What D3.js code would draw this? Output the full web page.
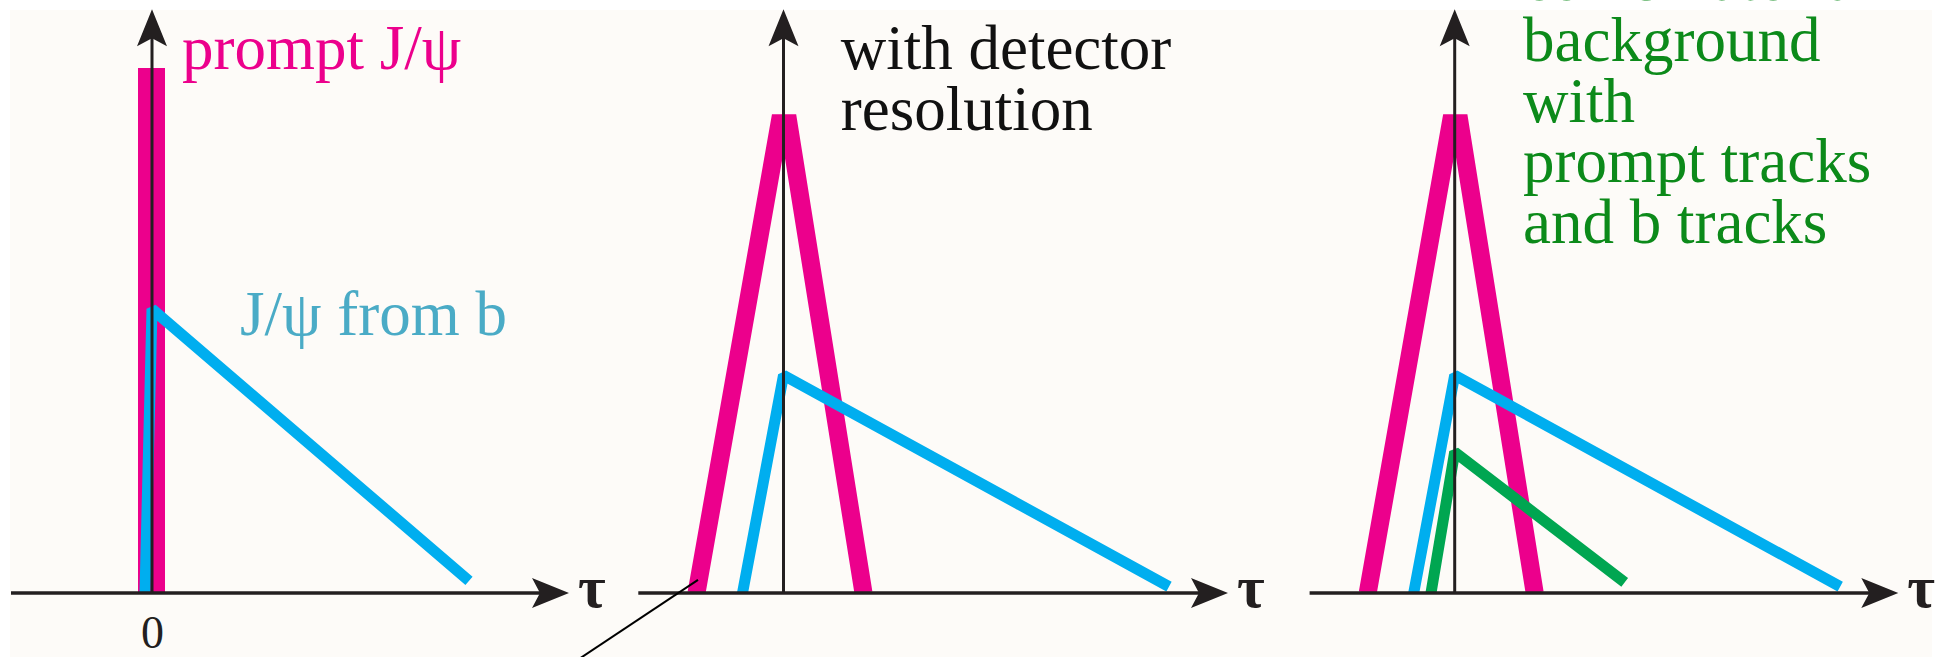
<!DOCTYPE html>
<html>
<head>
<meta charset="utf-8">
<script src="https://cdn.jsdelivr.net/npm/d3@7"></script>
<style>
  html, body { margin: 0; padding: 0; background: #ffffff; }
  svg { display: block; }
</style>
</head>
<body>
<svg id="chart" width="1943" height="657"></svg>
<script>
// ---- data (lifetime τ in arbitrary units, heights in arbitrary units) ----
// lifetime axis extent of each panel
const axisTau = [[-1.41, 4.17], [-1.452, 4.445], [-1.451, 4.436]];
const axisTop = 111;
const zeroTick = [0];

// prompt J/ψ: ideal spike (panel 1) and smeared peak (panels 2, 3)
const promptIdealTau = [-0.055, -0.055, 0.045, 0.045];
const promptIdealH   = [0, 98.2, 98.2, 0];
const promptTau      = [-0.87, -0.04, 0.05, 0.80];
const promptH        = [0, 89.3, 89.3, 0];

// J/ψ from b: ideal (panel 1) and smeared (panels 2, 3)
const fromBIdealTau  = [-0.07, 0, 3.17];
const fromBIdealH    = [0, 54.0, 2.3];
const fromBTau       = [-0.41, 0, 3.855];
const fromBH         = [0, 41.4, 1.2];

// combinatorial background (panel 3)
const bkgTau         = [-0.237, 0, 1.70];
const bkgH           = [0, 26.8, 2.0];

// pointer line below the second panel's axis
const pointerTau     = [-0.855, -2.16];
const pointerH       = [2.5, -14];

// text
const promptLabel  = "prompt J/ψ";
const fromBLabel   = "J/ψ from b";
const panel2Lines  = ["with detector", "resolution"];
const panel3Lines  = ["combinatorial", "background", "with", "prompt tracks", "and b tracks"];
const axisSymbol   = "τ";

// ---- layout ----
const W = 1943, H = 657;
const originX = [152, 783.5, 1454.7];
const pxPerTau = 100;
const FONT = "'Liberation Serif', 'Times New Roman', serif";
const C = {
  bg: "#fdfbf8", axis: "#231f20", pink: "#ec008c", blue: "#00aeef",
  green: "#00a651", blueText: "#4aabc6", greenText: "#0c8a1a", text: "#111111"
};

const svg = d3.select("#chart");
svg.append("rect").attr("x", 10).attr("y", 10).attr("width", 1922).attr("height", H - 10)
  .attr("fill", C.bg);

const y = d3.scaleLinear().domain([0, 100]).range([593, 67]);
const xScales = axisTau.map((d, i) =>
  d3.scaleLinear().domain(d).range([originX[i] + d[0] * pxPerTau, originX[i] + d[1] * pxPerTau]));

// keep curves above the τ axis
svg.append("defs").append("clipPath").attr("id", "above")
  .append("rect").attr("x", 0).attr("y", 0).attr("width", W).attr("height", y(0));

function curve(g, x, taus, hs, color, width, join) {
  const pts = taus.map((t, i) => [t, hs[i]]);
  g.append("path")
    .datum(pts)
    .attr("d", d3.line().x(d => x(d[0])).y(d => y(d[1])))
    .attr("fill", "none")
    .attr("stroke", color)
    .attr("stroke-width", width)
    .attr("stroke-linejoin", join)
    .attr("stroke-linecap", "butt")
    .attr("clip-path", "url(#above)");
}

function arrowUp(g, cx, tipY) {
  const p = d3.path();
  p.moveTo(cx, tipY);
  p.lineTo(cx + 15, tipY + 37);
  p.lineTo(cx, tipY + 29);
  p.lineTo(cx - 15, tipY + 37);
  p.closePath();
  g.append("path").attr("d", p.toString()).attr("fill", C.axis);
}
function arrowRight(g, tipX, cy) {
  const p = d3.path();
  p.moveTo(tipX, cy);
  p.lineTo(tipX - 37, cy - 15);
  p.lineTo(tipX - 29, cy);
  p.lineTo(tipX - 37, cy + 15);
  p.closePath();
  g.append("path").attr("d", p.toString()).attr("fill", C.axis);
}

function axes(g, x, i) {
  const [t0, t1] = axisTau[i];
  g.append("line")
    .attr("x1", x(t0)).attr("x2", x(t1) - 20)
    .attr("y1", y(0)).attr("y2", y(0))
    .attr("stroke", C.axis).attr("stroke-width", 3.5);
  arrowRight(g, x(t1), y(0));
  g.append("line")
    .attr("x1", x(0)).attr("x2", x(0))
    .attr("y1", y(0)).attr("y2", y(axisTop) + 20)
    .attr("stroke", C.axis).attr("stroke-width", 3);
  arrowUp(g, x(0), y(axisTop));
  g.append("text")
    .attr("x", x(t1) + 9).attr("y", 607)
    .attr("font-family", FONT).attr("font-size", 60).attr("font-weight", "bold")
    .attr("fill", C.axis)
    .text(axisSymbol);
}

function textBlock(g, lines, x0, y0, step, color) {
  const t = g.append("text")
    .attr("font-family", FONT).attr("font-size", 63).attr("fill", color);
  lines.forEach((s, k) => {
    t.append("tspan").attr("x", x0).attr("y", y0 + k * step).text(s);
  });
}

// ---- panel 1: ideal lifetime distributions ----
{
  const x = xScales[0];
  const g = svg.append("g");
  curve(g, x, promptIdealTau, promptIdealH, C.pink, 17, "miter");
  curve(g, x, fromBIdealTau, fromBIdealH, C.blue, 11, "bevel");
  axes(g, x, 0);
  const ax = g.append("g")
    .attr("transform", `translate(0,${y(0)})`)
    .call(d3.axisBottom(x).tickValues(zeroTick).tickSize(0).tickPadding(22).tickFormat(d3.format("d")));
  ax.select(".domain").remove();
  ax.selectAll("text")
    .attr("font-family", FONT).attr("font-size", 46).attr("fill", C.axis);
  textBlock(g, [promptLabel], 182, 69, 61, C.pink);
  textBlock(g, [fromBLabel], 240, 335, 61, C.blueText);
}

// ---- panel 2: smeared by detector resolution ----
{
  const x = xScales[1];
  const g = svg.append("g");
  curve(g, x, promptTau, promptH, C.pink, 18, "miter");
  curve(g, x, fromBTau, fromBH, C.blue, 11, "bevel");
  axes(g, x, 1);
  g.append("path")
    .datum(pointerTau.map((t, i) => [t, pointerH[i]]))
    .attr("d", d3.line().x(d => x(d[0])).y(d => y(d[1])))
    .attr("stroke", "#000").attr("stroke-width", 2).attr("fill", "none");
  textBlock(g, panel2Lines, 840.7, 69, 61, C.text);
}

// ---- panel 3: with combinatorial background ----
{
  const x = xScales[2];
  const g = svg.append("g");
  curve(g, x, promptTau, promptH, C.pink, 18, "miter");
  curve(g, x, fromBTau, fromBH, C.blue, 11, "bevel");
  curve(g, x, bkgTau, bkgH, C.green, 11, "bevel");
  axes(g, x, 2);
  textBlock(g, panel3Lines, 1523, 0, 60.75, C.greenText);
}
</script>
</body>
</html>
